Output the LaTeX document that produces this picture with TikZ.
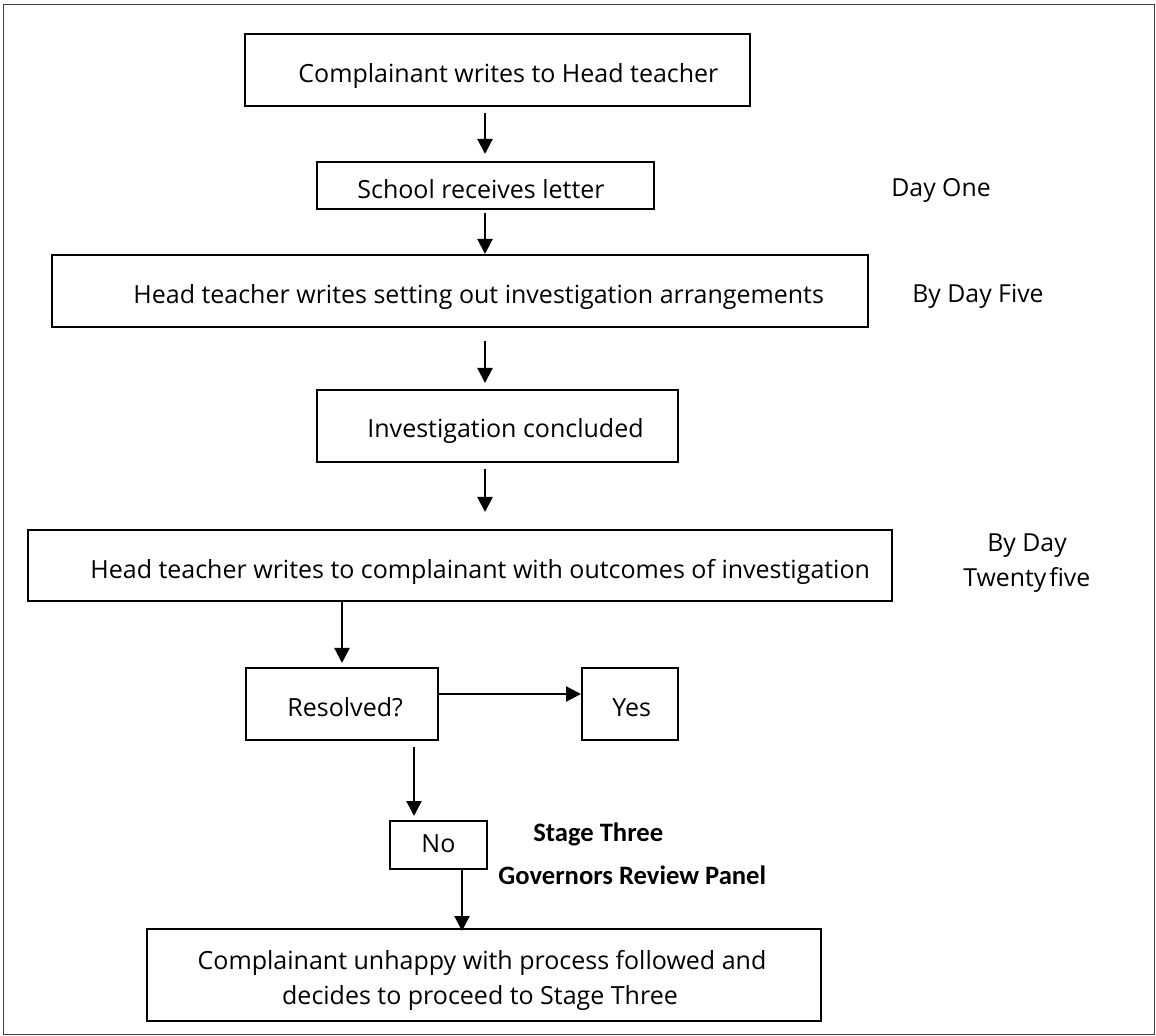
\documentclass[tikz,border=0pt]{standalone}
\usepackage{fontspec}
\setmainfont{Open Sans}
\newfontfamily\boldlbl{Carlito}
\usetikzlibrary{fit,arrows.meta}
\begin{document}
\begin{tikzpicture}[x=0.5pt,y=-0.5pt,
  box/.style={draw=black,line width=1pt,inner sep=0pt,rectangle},
  txt/.style={anchor=base west,inner sep=0pt,font=\fontsize{12.5pt}{15pt}\selectfont},
  ctxt/.style={anchor=base,inner sep=0pt,font=\fontsize{12.5pt}{15pt}\selectfont},
  side/.style={anchor=base west,inner sep=0pt,font=\fontsize{12.4pt}{15pt}\selectfont},
  stage/.style={anchor=base west,inner sep=0pt,font=\boldlbl\bfseries\fontsize{13.3pt}{16pt}\selectfont},
  arr/.style={line width=1.1pt,-{Triangle[length=7.5pt,width=7.5pt]}}]
\useasboundingbox (0,0) rectangle (1156,1036);
\draw[black!75,line width=0.9pt] (3.5,4.5) rectangle (1154.5,1034.5);
% boxes
\node (b1) [box,fit={(245,34) (750,106)}] {};
\node (b2) [box,fit={(317,162) (654,209)}] {};
\node (b3) [box,fit={(52,255) (868,327)}] {};
\node (b4) [box,fit={(317,390) (678,462)}] {};
\node (b5) [box,fit={(28,530) (892,601)}] {};
\node (b6) [box,fit={(246,668) (438,740)}] {};
\node (b7) [box,fit={(582,668) (678,740)}] {};
\node (b8) [box,fit={(390,821) (487,869)}] {};
\node (b9) [box,fit={(147,929) (821,1021)}] {};
% box texts
\node (t1) [txt] at (298,83) {Complainant writes to Head teacher};
\node (t2) [txt] at (357,199) {School receives letter};
\node (t3) [txt] at (133,304) {Head teacher writes setting out investigation arrangements};
\node (t4) [txt] at (367,438) {Investigation concluded};
\node (t5) [txt] at (90,579) {Head teacher writes to complainant with outcomes of investigation};
\node (t6) [txt] at (287,717) {Resolved?};
\node (t7) [txt] at (612,717) {Yes};
\node (t8) [txt] at (421,852) {No};
\node (t9) [ctxt] at (482,969) {Complainant unhappy with process followed and};
\node (t10) [ctxt] at (480,1004) {decides to proceed to Stage Three};
% side labels
\node (d1) [side] at (891,197) {Day One};
\node (d2) [side] at (912,303) {By Day Five};
\node (d3) [side] at (987,552) {By Day};
\node (d4) [side] at (963,587) {Twenty\kern1.5pt five};
\node (s1) [stage] at (533,841) {Stage Three};
\node (s2) [stage] at (498,884) {Governors Review Panel};
% connector x positions
\coordinate (xa) at (485,0);
\coordinate (xb) at (342,0);
\coordinate (xc) at (414,0);
\coordinate (xd) at (462,0);
\coordinate (yr) at (0,694);
% connectors
\draw[arr,shorten <=3pt,shorten >=3.5pt] (b1.south -| xa) -- (b2.north -| xa);
\draw[arr,shorten <=1.5pt] (b2.south -| xa) -- (b3.north -| xa);
\draw[arr,shorten <=6.5pt,shorten >=3pt] (b3.south -| xa) -- (b4.north -| xa);
\draw[arr,shorten <=3pt,shorten >=8.5pt] (b4.south -| xa) -- (b5.north -| xa);
\draw[arr,shorten >=2pt] (b5.south -| xb) -- (b6.north -| xb);
\draw[arr] (b6.east |- yr) -- (b7.west |- yr);
\draw[arr,shorten <=3pt,shorten >=2pt] (b6.south -| xc) -- (b8.north -| xc);
\draw[arr,shorten >=-1.5pt] (b8.south -| xd) -- (b9.north -| xd);
\end{tikzpicture}
\end{document}
